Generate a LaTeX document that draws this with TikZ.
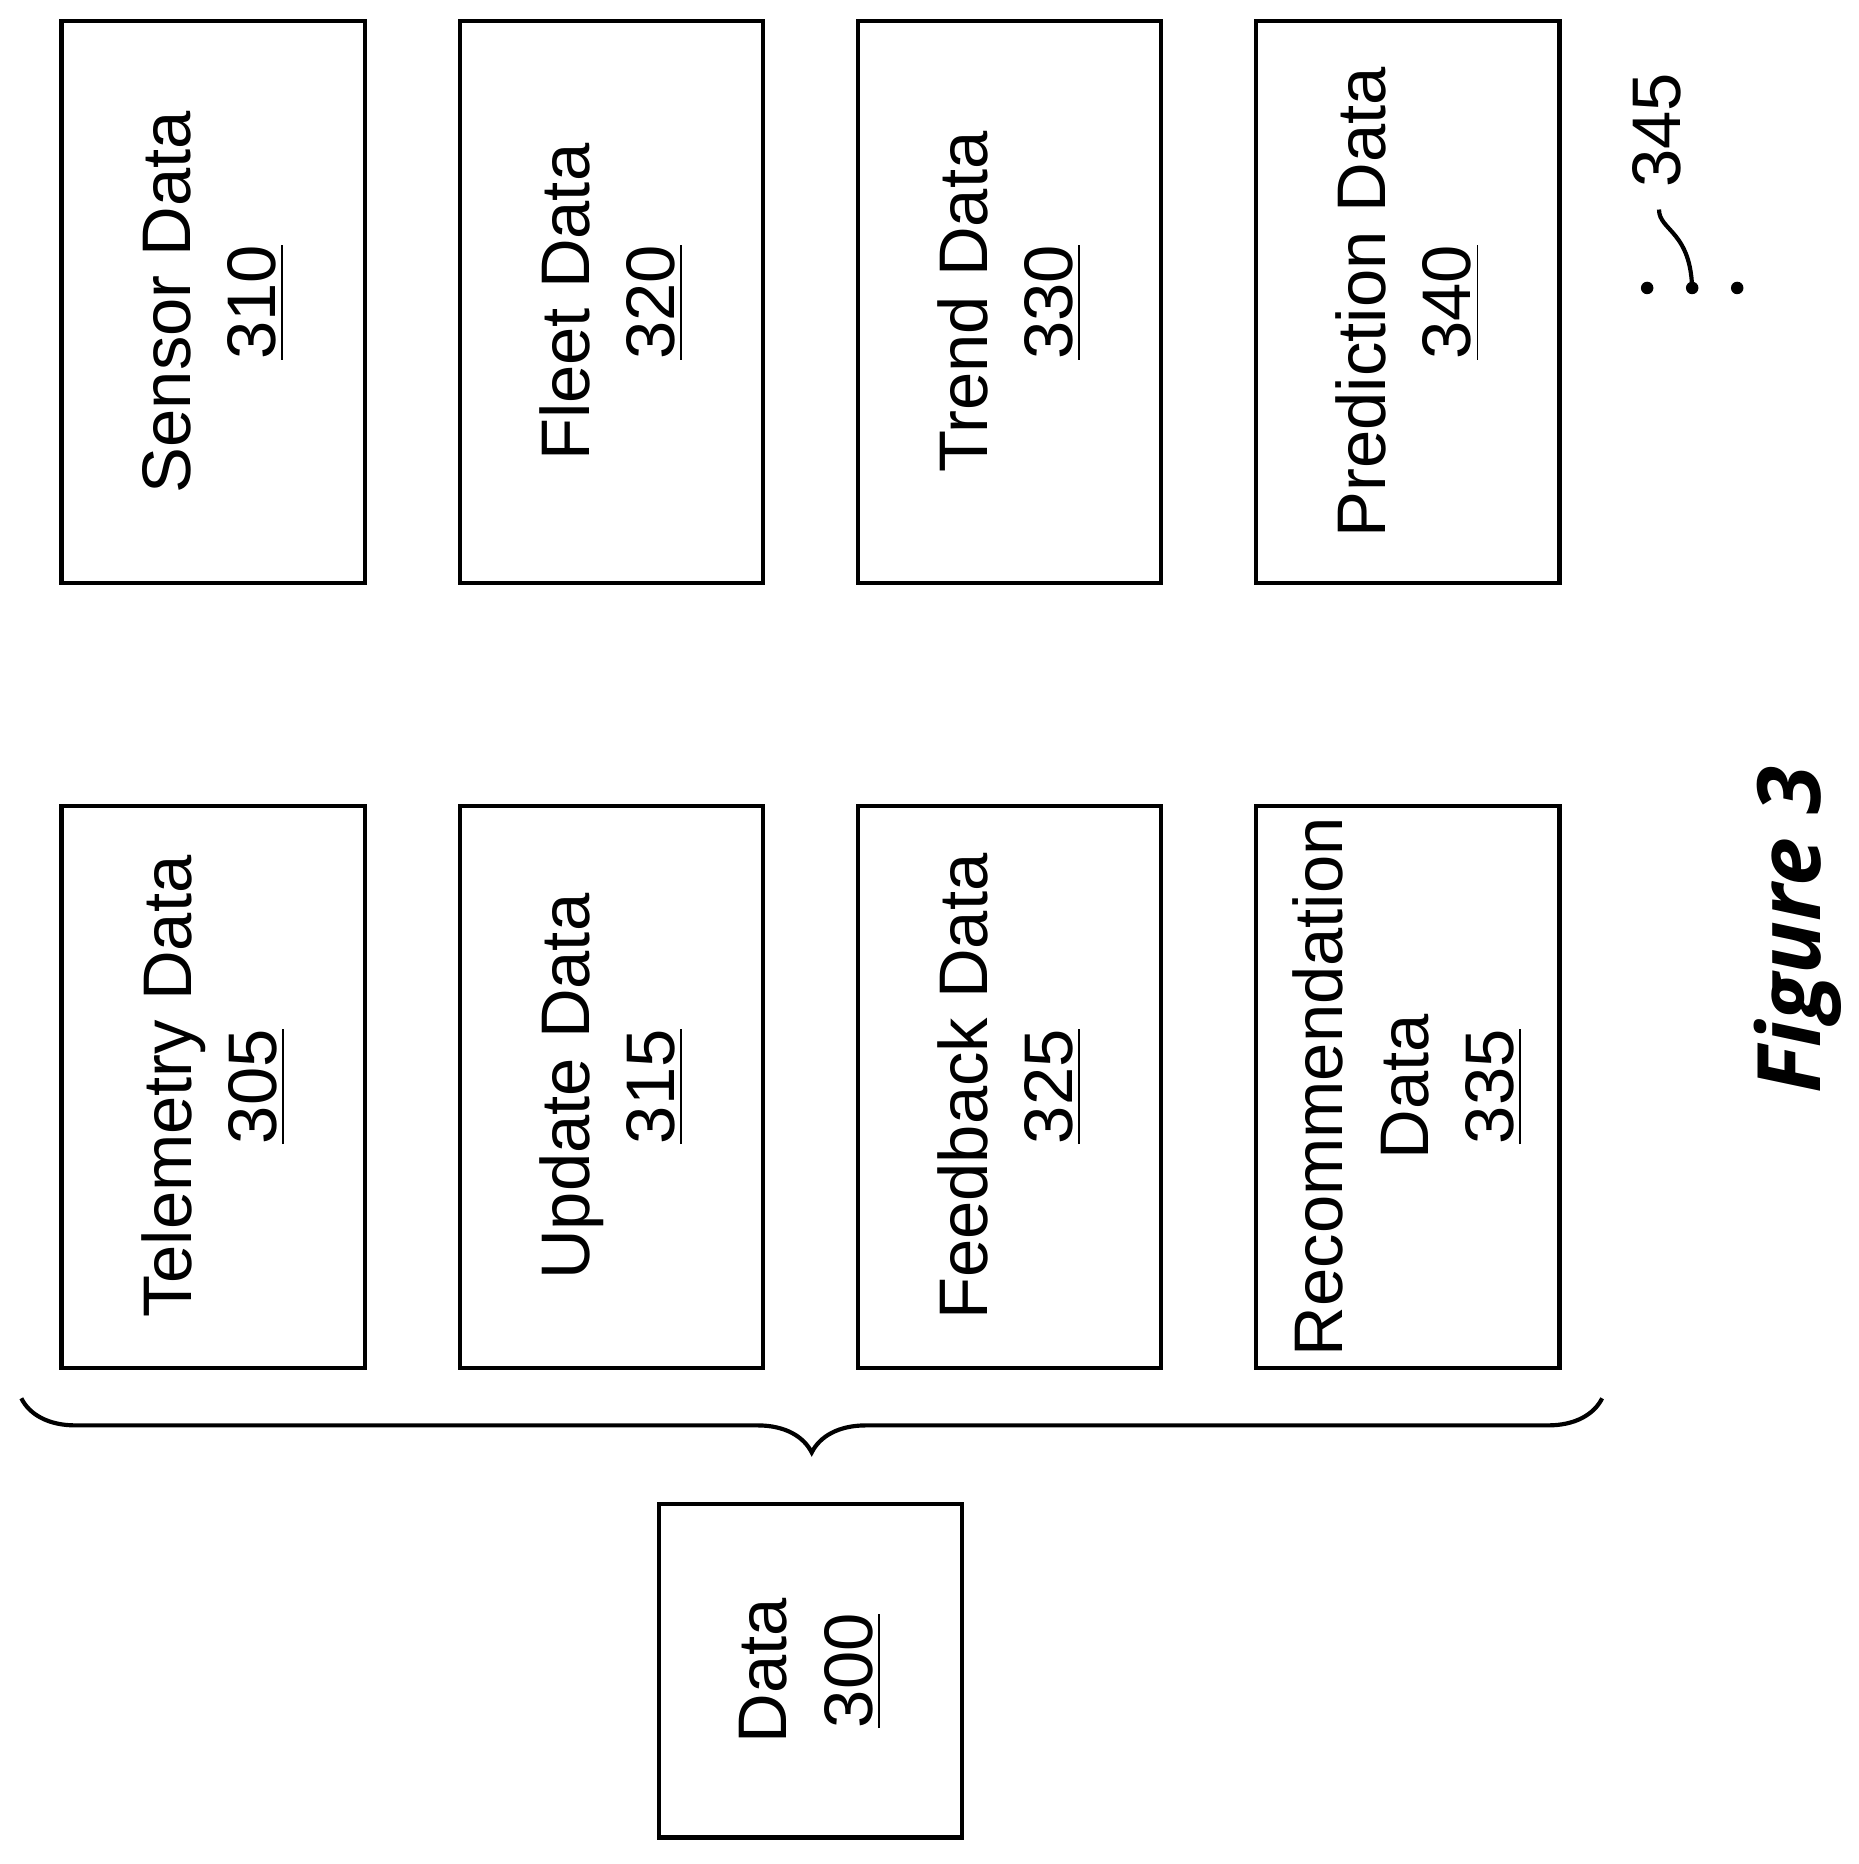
\documentclass[tikz,border=0pt]{standalone}
\usepackage{fontspec}
\setmainfont{Liberation Sans}
\newfontfamily\figfont{Open Sans}
\usetikzlibrary{decorations.pathreplacing}

\tikzset{
  datablock/.style={draw,line width=1pt,rotate=90,align=center,inner sep=0pt,
    minimum width=4.74cm,minimum height=2.56cm,font=\fontsize{16.5}{20.5}\selectfont},
  smallblock/.style={datablock,minimum width=2.81cm},
  dotmark/.style={circle,fill,inner sep=0pt,minimum size=3pt}
}

\begin{document}
\begin{tikzpicture}[x=0.01cm,y=-0.01cm]
\useasboundingbox (0,0) rectangle (1568,1573);
% upper row
\node[datablock] (sensor)     at (180,255)  {Sensor Data\\\underline{310}};
\node[datablock] (fleet)      at (516,255)  {Fleet Data\\\underline{320}};
\node[datablock] (trend)      at (852,255)  {Trend Data\\\underline{330}};
\node[datablock] (prediction) at (1188,255) {Prediction Data\\\underline{340}};
% lower row
\node[datablock] (telemetry)  at (180,917)  {Telemetry Data\\\underline{305}};
\node[datablock] (update)     at (516,917)  {Update Data\\\underline{315}};
\node[datablock] (feedback)   at (852,917)  {Feedback Data\\\underline{325}};
\node[datablock] (recommend)  at (1188,917) {Recommendation\\Data\\\underline{335}};
% parent
\node[smallblock] (data) at (684,1410) {Data\\\underline{300}};

\coordinate (braceL) at (18,1180);
\coordinate (braceR) at (1352,1180);
\draw[line width=1pt,decorate,decoration={brace,mirror,amplitude=13pt}] (braceL) -- (braceR);

% more blocks
\node[dotmark] (dot1) at (1390,243) {};
\node[dotmark] (dot2) at (1428,243) {};
\node[dotmark] (dot3) at (1466,243) {};
\node[rotate=90,font=\fontsize{16.5}{20}\selectfont] (more) at (1398,110) {345};
\draw[line width=1pt] (more.west) ++(2,6) .. controls (1400,195) and (1428,195) .. ([yshift=-0.1cm]dot2.north);

\node[rotate=90,font=\figfont\bfseries\itshape\fontsize{21}{25}\selectfont] (caption) at (1517,785) {Figure 3};
\end{tikzpicture}
\end{document}
